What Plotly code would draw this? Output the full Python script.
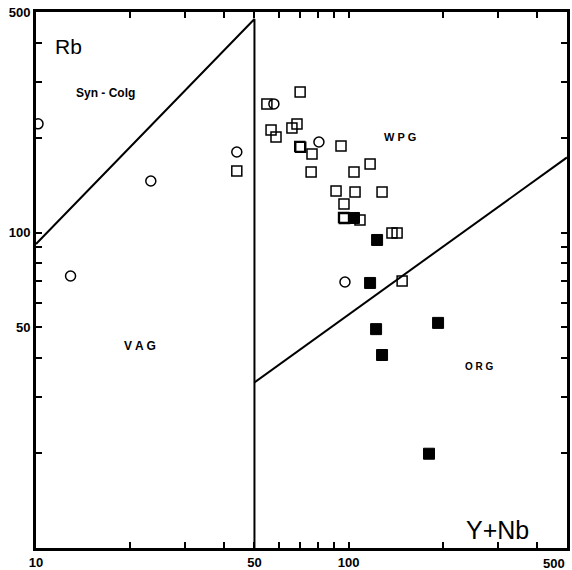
import plotly.graph_objects as go

# Rb vs (Y+Nb) tectonic discrimination diagram (log-log)

# Sample groups
circle_x = [10.15, 12.9, 23.3, 43.9, 57.7, 80.4, 97.4]
circle_y = [221, 72.8, 145.6, 180, 255.6, 193.6, 69.7]

open_sq_x = [43.9, 54.8, 70.0, 56.5, 58.6, 65.9, 68.4, 69.8, 70.3, 76.4, 94.6, 75.9,
             117.2, 104.1, 91.2, 104.9, 128.0, 96.7, 96.4, 97.0, 108.8, 137.7, 143.0, 148.4]
open_sq_y = [156.7, 255.6, 278.9, 211.3, 200.9, 214.5, 220.8, 187.4, 186.2, 177.4, 188.1, 155.6,
             164.9, 155.6, 135.4, 134.4, 134.4, 123.1, 111.6, 110.7, 109.6, 99.7, 99.7, 70.2]

filled_sq_x = [104.1, 123.4, 117.2, 122.5, 128.0, 193.4, 180.9]
filled_sq_y = [111.2, 94.7, 69.2, 49.4, 40.9, 51.7, 19.9]

# Field boundaries
vag_syn_x = [10, 50, 50]
vag_syn_y = [92, 475, 10]
org_wpg_x = [50, 500]
org_wpg_y = [33.5, 173]

# Axis ticks
x_tickvals = [10, 20, 30, 40, 50, 60, 70, 80, 90, 100, 200, 300, 400, 500]
x_ticktext = ["10", "", "", "", "50", "", "", "", "", "100", "", "", "", ""]
y_tickvals = [20, 30, 40, 50, 60, 70, 80, 90, 100, 200, 300, 400, 500]
y_ticktext = ["", "", "", "50", "", "", "", "", "100", "", "", "", "500"]

FONT = "Liberation Sans, Arial, Helvetica, sans-serif"

fig = go.Figure()

line_style = dict(color="black", width=2)
fig.add_trace(go.Scatter(x=vag_syn_x, y=vag_syn_y, mode="lines", line=line_style,
                         hoverinfo="skip", showlegend=False))
fig.add_trace(go.Scatter(x=org_wpg_x, y=org_wpg_y, mode="lines", line=line_style,
                         hoverinfo="skip", showlegend=False))

fig.add_trace(go.Scatter(x=filled_sq_x, y=filled_sq_y, mode="markers",
                         marker=dict(symbol="square", size=11, color="black",
                                     line=dict(color="black", width=1)),
                         showlegend=False))
fig.add_trace(go.Scatter(x=open_sq_x, y=open_sq_y, mode="markers",
                         marker=dict(symbol="square-open", size=10, color="black",
                                     line=dict(color="black", width=1.5)),
                         showlegend=False))
fig.add_trace(go.Scatter(x=circle_x, y=circle_y, mode="markers",
                         marker=dict(symbol="circle-open", size=10, color="black",
                                     line=dict(color="black", width=1.5)),
                         showlegend=False))

axis_common = dict(
    type="log",
    showgrid=False,
    zeroline=False,
    showline=True,
    linecolor="black",
    linewidth=3,
    mirror="ticks",
    ticks="inside",
    ticklen=6,
    tickwidth=1.5,
    tickcolor="black",
    tickfont=dict(family=FONT, size=13, color="black", weight="bold"),
    automargin=False,
)

fig.update_xaxes(range=[1, 2.69897], tickmode="array", tickvals=x_tickvals,
                 ticktext=x_ticktext, **axis_common)
fig.update_yaxes(range=[1, 2.69897], tickmode="array", tickvals=y_tickvals,
                 ticktext=y_ticktext, **axis_common)


def label(text, px, py, size, bold=True, xanchor="center"):
    # place text at a pixel position inside the 572x570 canvas
    fig.add_annotation(
        text=text, xref="paper", yref="paper",
        x=(px - 36) / 531, y=(548 - py) / 536,
        xanchor=xanchor, yanchor="middle", showarrow=False,
        font=dict(family=FONT, size=size, color="black",
                  weight="bold" if bold else "normal"),
    )


label("Rb", 68, 46, 21, bold=False)
label("Y+Nb", 497, 530, 25, bold=False)
label("Syn - Colg", 105, 93, 12)
label("W P G", 400, 137, 11)
label("V A G", 140, 346, 12)
label("O R G", 479, 366, 10)
label("500", 567, 563, 13, xanchor="right")

fig.update_layout(
    width=572,
    height=570,
    margin=dict(l=36, r=5, t=12, b=22),
    paper_bgcolor="white",
    plot_bgcolor="white",
    showlegend=False,
)

fig.write_html("out.html")
